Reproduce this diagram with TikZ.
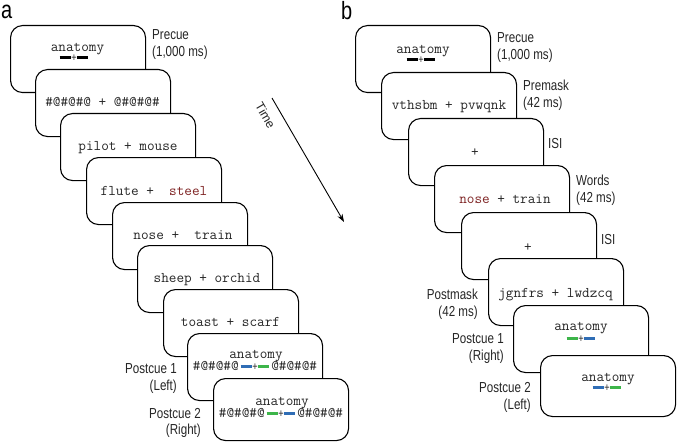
\documentclass[tikz,border=0pt]{standalone}
\usepackage{fontspec}
\setmainfont{Liberation Sans}[FakeStretch=0.8]
\newfontfamily\plainsans{Liberation Sans}
\usetikzlibrary{arrows.meta}
\definecolor{cueblue}{HTML}{2F6DB5}
\definecolor{cuegreen}{HTML}{3DB54A}
\definecolor{wordred}{HTML}{7E2222}
\definecolor{txt}{HTML}{262626}
\newcommand\cuebars[2]{\textcolor{#1}{\rule[2.4pt]{11pt}{2.8pt}}\kern0.6pt{\rmfamily\fontsize{11.5}{11.5}\selectfont\textcolor{txt}{+}}\kern0.6pt\textcolor{#2}{\rule[2.4pt]{11pt}{2.8pt}}}
\tikzset{
  screen/.style={draw, line width=1.1pt, rounded corners=12pt, fill=white,
    minimum width=135pt, minimum height=67pt, inner sep=0, anchor=north west},
  mono/.style={font=\ttfamily\fontsize{14.8}{16}\selectfont, text=txt, inner sep=0, anchor=base},
  cuenode/.style={inner sep=0, anchor=center},
  lab/.style={font=\fontsize{14.5}{16}\selectfont, text=black!85, inner sep=0},
  labl/.style={lab, anchor=base west},
  labr/.style={lab, anchor=base east},
  panel/.style={font=\fontsize{25}{25}\selectfont, inner sep=0, anchor=base west},
}
\begin{document}
\begin{tikzpicture}[x=1pt,y=-1pt]
\path[use as bounding box, fill=white] (0,0) rectangle (678,444);
% panel letters
\node[panel] (pa) at (1,19) {a};
\node[panel] (pb) at (341,20) {b};
% ---------- panel a ----------
\node[screen] (a1) at (10,25) {};
\node[mono] (ta1) at (77.5,51.5) {anatomy};
\node[cuenode] (ca1) at (74,58) {\cuebars{black}{black}};
\node[screen] (a2) at (35,69) {};
\node[mono] (ta2) at (102.5,106.5) {\#@\#@\#@ + @\#@\#@\#};
\node[screen] (a3) at (60,113) {};
\node[mono] (ta3) at (128,150.5) {pilot + mouse};
\node[screen] (a4) at (86,157) {};
\node[mono] (ta4) at (154,195.5) {flute + \ \textcolor{wordred}{steel}};
\node[screen] (a5) at (112,202) {};
\node[mono] (ta5) at (183,239.5) {nose + \ train};
\node[screen] (a6) at (137,245) {};
\node[mono] (ta6) at (207,282.5) {sheep + orchid};
\node[screen] (a7) at (163,289) {};
\node[mono] (ta7) at (230.5,326.5) {toast + scarf};
\node[screen] (a8) at (187,333) {};
\node[mono] (ta8) at (256,358.5) {anatomy};
\node[mono] (tb8) at (255,370) {\#@\#@\#@\kern2pt\cuebars{cueblue}{cuegreen}\kern2pt@\#@\#@\#};
\node[screen, minimum height=62pt] (a9) at (213,378) {};
\node[mono] (ta9) at (282,405.5) {anatomy};
\node[mono] (tb9) at (281,417) {\#@\#@\#@\kern2pt\cuebars{cuegreen}{cueblue}\kern2pt@\#@\#@\#};
% labels a
\node[labl] (la1) at (152,40) {Precue};
\node[labl] (la2) at (152,57) {(1,000 ms)};
\node[labr] (la3) at (177,373) {Postcue 1};
\node[labr] (la4) at (177,390) {(Left)};
\node[labr] (la5) at (201,418) {Postcue 2};
\node[labr] (la6) at (201,434) {(Right)};
% time arrow
\coordinate (t0) at (272,98);
\coordinate (t1) at (344,222);
\draw[line width=0.9pt, -{Stealth[length=8pt,width=5.5pt]}] (t0) -- (t1);
\node[inner sep=0, font=\plainsans\fontsize{12.5}{14}\selectfont, text=black!85, anchor=center, rotate=-60] (time) at (265.5,115.5) {Time};
% ---------- panel b ----------
\node[screen] (b1) at (355,25) {};
\node[mono] (tc1) at (423,53.5) {anatomy};
\node[cuenode] (cb1) at (421,60) {\cuebars{black}{black}};
\node[screen] (b2) at (381,72) {};
\node[mono] (tc2) at (449,110) {vthsbm + pvwqnk};
\node[screen] (b3) at (408,118) {};
\node[mono] (tc3) at (475,157) {+};
\node[screen] (b4) at (434,165) {};
\node[mono] (tc4) at (505,203.5) {\textcolor{wordred}{nose} + train};
\node[screen] (b5) at (461,212) {};
\node[mono] (tc5) at (528,251) {+};
\node[screen] (b6) at (488,258) {};
\node[mono] (tc6) at (555.5,297.5) {jgnfrs + lwdzcq};
\node[screen] (b7) at (513,305) {};
\node[mono] (tc7) at (581,330.5) {anatomy};
\node[cuenode] (cb7) at (581,339) {\cuebars{cuegreen}{cueblue}};
\node[screen, minimum height=61pt] (b8) at (540,355) {};
\node[mono] (tc8) at (608,381.5) {anatomy};
\node[cuenode] (cb8) at (607,388) {\cuebars{cueblue}{cuegreen}};
% labels b
\node[labl] (lb1) at (497,43) {Precue};
\node[labl] (lb2) at (497,60) {(1,000 ms)};
\node[labl] (lb3) at (523,91) {Premask};
\node[labl] (lb4) at (523,107) {(42 ms)};
\node[labl] (lb5) at (548,148) {ISI};
\node[labl] (lb6) at (576,185) {Words};
\node[labl] (lb7) at (576,202) {(42 ms)};
\node[labl] (lb8) at (601,244) {ISI};
\node[labr] (lb9) at (478,299) {Postmask};
\node[labr] (lb10) at (478,316) {(42 ms)};
\node[labr] (lb11) at (504,343) {Postcue 1};
\node[labr] (lb12) at (504,360) {(Right)};
\node[labr] (lb13) at (531,392) {Postcue 2};
\node[labr] (lb14) at (531,409) {(Left)};
\end{tikzpicture}
\end{document}
